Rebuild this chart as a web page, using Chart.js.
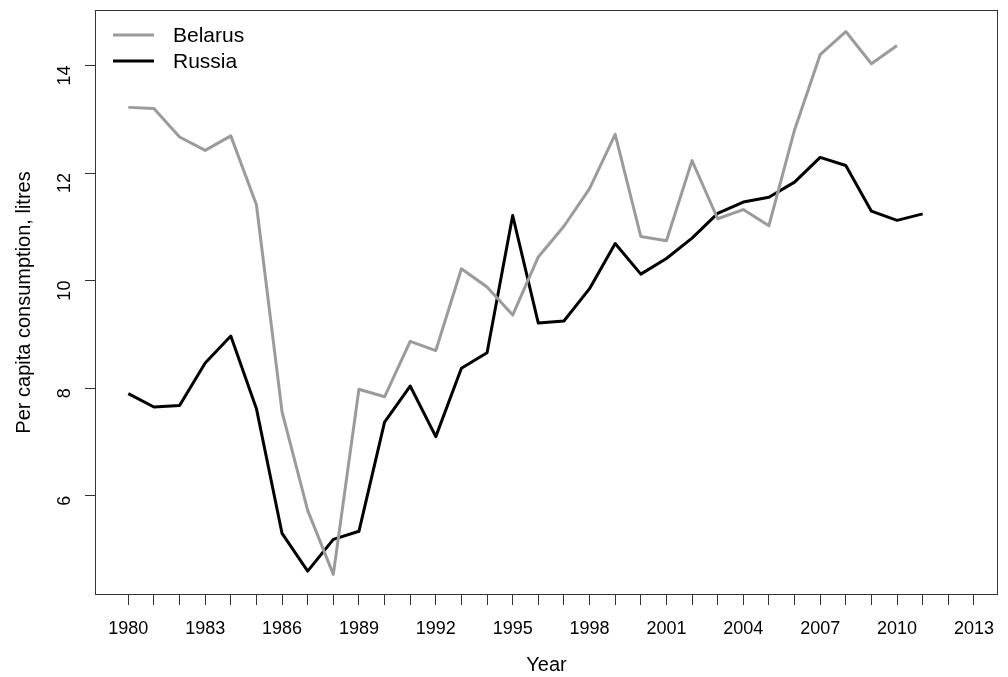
<!DOCTYPE html>
<html>
<head>
<meta charset="utf-8">
<script src="https://cdn.jsdelivr.net/npm/chart.js@4/dist/chart.umd.min.js"></script>
<style>
  html, body { margin: 0; padding: 0; background: #fff; }
</style>
</head>
<body>
<canvas id="alcoholChart" width="1008" height="677"></canvas>
<script>
const years = [1980, 1981, 1982, 1983, 1984, 1985, 1986, 1987, 1988, 1989, 1990, 1991,
  1992, 1993, 1994, 1995, 1996, 1997, 1998, 1999, 2000, 2001, 2002, 2003, 2004, 2005,
  2006, 2007, 2008, 2009, 2010, 2011];
const belarus = [13.22, 13.20, 12.67, 12.42, 12.69, 11.41, 7.56, 5.73, 4.54, 7.98, 7.84, 8.87,
  8.70, 10.22, 9.88, 9.36, 10.44, 11.01, 11.71, 12.72, 10.82, 10.74, 12.23, 11.15, 11.32, 11.02,
  12.80, 14.20, 14.63, 14.03, 14.37, null];
const russia = [7.90, 7.65, 7.68, 8.47, 8.97, 7.62, 5.30, 4.60, 5.19, 5.34, 7.37, 8.04,
  7.10, 8.37, 8.66, 11.21, 9.21, 9.25, 9.85, 10.69, 10.12, 10.41, 10.79, 11.25, 11.46, 11.55,
  11.83, 12.29, 12.14, 11.29, 11.12, 11.24];
const xTicks = [];
for (let y = 1980; y <= 2013; y++) xTicks.push(y);
const yTicks = [6, 8, 10, 12, 14];

const FONT = "'Liberation Sans', Arial, sans-serif";

function points(values) {
  return years.map((yr, i) => ({ x: yr, y: values[i] }));
}

const boxAndLegend = {
  id: "boxAndLegend",
  afterDraw(chart) {
    const ctx = chart.ctx;
    const a = chart.chartArea;
    ctx.save();
    ctx.strokeStyle = "#333";
    ctx.lineWidth = 1;
    ctx.strokeRect(a.left + 0.5, a.top + 0.5, a.right - a.left - 1, a.bottom - a.top - 1);

    // legend
    ctx.font = "21px " + FONT;
    ctx.textBaseline = "middle";
    ctx.fillStyle = "#000";
    chart.data.datasets.forEach((ds, i) => {
      const y = a.top + 25 + i * 26;
      ctx.strokeStyle = ds.borderColor;
      ctx.lineWidth = 3;
      ctx.beginPath();
      ctx.moveTo(a.left + 18, y);
      ctx.lineTo(a.left + 59, y);
      ctx.stroke();
      ctx.fillText(ds.label, a.left + 78, y + 1);
    });
    ctx.restore();
  }
};

const ctx = document.getElementById("alcoholChart").getContext("2d");
new Chart(ctx, {
  type: "line",
  data: {
    datasets: [
      {
        label: "Belarus",
        data: points(belarus),
        borderColor: "#9b9b9b",
        borderWidth: 3,
        pointRadius: 0,
        tension: 0,
        borderJoinStyle: "round",
        spanGaps: false,
      },
      {
        label: "Russia",
        data: points(russia),
        borderColor: "#000000",
        borderWidth: 3,
        pointRadius: 0,
        tension: 0,
        borderJoinStyle: "round",
      },
    ],
  },
  options: {
    responsive: false,
    animation: false,
    layout: { padding: { top: 10, right: 10, left: 0, bottom: 0 } },
    plugins: {
      legend: { display: false },
      tooltip: { enabled: false },
    },
    scales: {
      x: {
        type: "linear",
        min: 1978.7,
        max: 2013.94,
        afterBuildTicks: (scale) => {
          scale.ticks = xTicks.map((v) => ({ value: v }));
        },
        afterFit: (scale) => {
          scale.height = 82;
          scale.paddingLeft = 0;
          scale.paddingRight = 0;
        },
        border: { display: false },
        grid: {
          drawOnChartArea: false,
          drawTicks: true,
          tickLength: 10,
          tickColor: "#333",
          tickWidth: 1,
        },
        ticks: {
          autoSkip: false,
          maxRotation: 0,
          minRotation: 0,
          padding: 13,
          color: "#000",
          font: { family: FONT, size: 18 },
          callback: (v) => ((v - 1980) % 3 === 0 ? String(v) : ""),
        },
        title: {
          display: true,
          text: "Year",
          color: "#000",
          font: { family: FONT, size: 20 },
          padding: { top: 12, bottom: 0 },
        },
      },
      y: {
        min: 4.156,
        max: 15.03,
        afterBuildTicks: (scale) => {
          scale.ticks = yTicks.map((v) => ({ value: v }));
        },
        afterFit: (scale) => {
          scale.width = 95;
          scale.paddingTop = 0;
          scale.paddingBottom = 0;
        },
        border: { display: false },
        grid: {
          drawOnChartArea: false,
          drawTicks: true,
          tickLength: 10,
          tickColor: "#333",
          tickWidth: 1,
        },
        ticks: {
          minRotation: 90,
          maxRotation: 90,
          padding: 20,
          color: "#000",
          font: { family: FONT, size: 18 },
        },
        title: {
          display: true,
          text: "Per capita consumption, litres",
          color: "#000",
          font: { family: FONT, size: 20 },
          padding: { top: 12, bottom: 12 },
        },
      },
    },
  },
  plugins: [boxAndLegend],
});
</script>
</body>
</html>
